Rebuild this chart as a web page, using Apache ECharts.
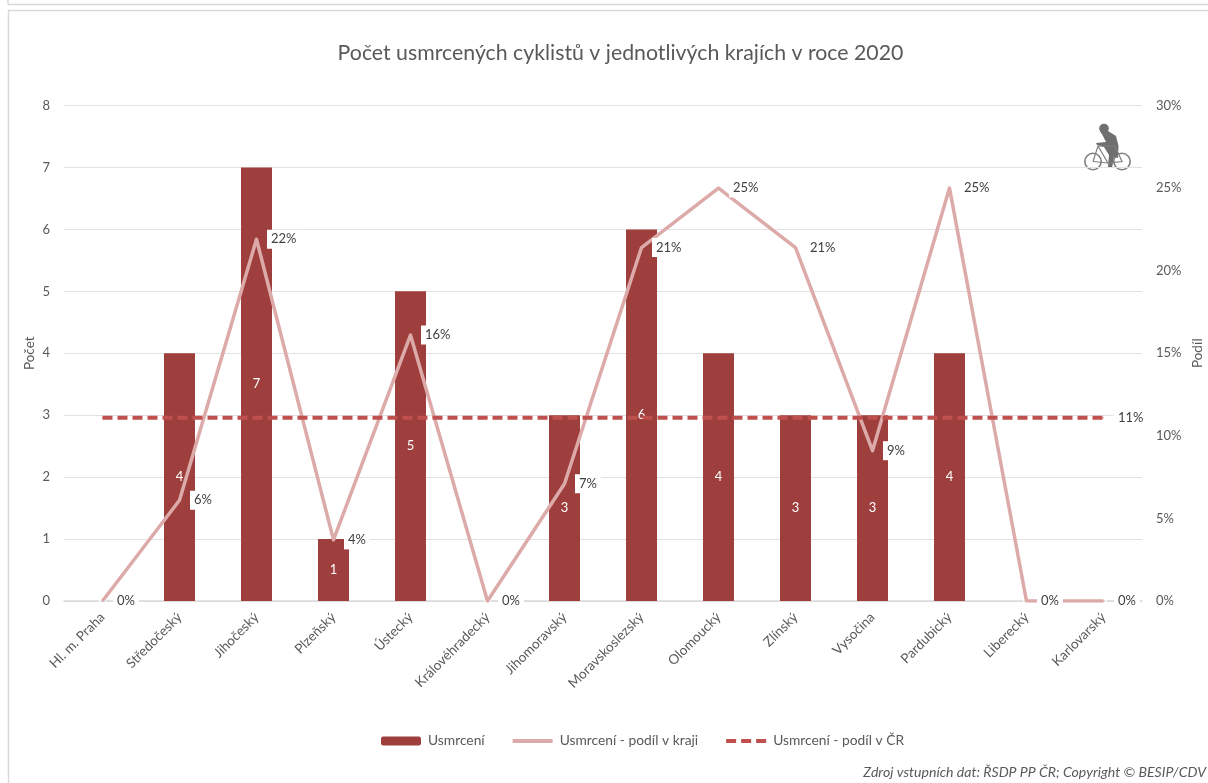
<!DOCTYPE html>
<html><head><meta charset="utf-8">
<style>html,body{margin:0;padding:0;background:#fff}#c{width:1208px;height:783px}</style>
<script src="https://cdn.jsdelivr.net/npm/echarts@6/dist/echarts.min.js"></script>
</head><body><div id="c"></div>
<script>
const categories = ["Hl. m. Praha","Středočeský","Jihočeský","Plzeňský","Ústecký","Královéhradecký","Jihomoravský","Moravskoslezský","Olomoucký","Zlínský","Vysočina","Pardubický","Liberecký","Karlovarský"];
const deaths = [0,4,7,1,5,0,3,6,4,3,3,4,0,0];
const shareRegion = [0,6.1,21.9,3.7,16.1,0,7.1,21.4,25,21.4,9.1,25,0,0];
const shareCountry = [11.1,11.1,11.1,11.1,11.1,11.1,11.1,11.1,11.1,11.1,11.1,11.1,11.1,11.1];
const names = ["Usmrcení","Usmrcení - podíl v kraji","Usmrcení - podíl v ČR"];
const titleText = "Počet usmrcených cyklistů v jednotlivých krajích v roce 2020";
const sourceText = "Zdroj vstupních dat: ŘSDP PP ČR; Copyright © BESIP/CDV";

const FONT = "Lato", GREY = "#595959", BORDER = "#d9d9d9";
const pct = p => Math.round(p.value) + "%";
const whiteLabel = {
  show:true, position:"right", distance:10, formatter:pct, color:"#404040",
  fontFamily:FONT, fontSize:13, backgroundColor:"#fff", padding:[3,4,3,4]
};
const frame = (x1,y1,x2,y2) => ({type:"line",silent:true,shape:{x1,y1,x2,y2},style:{stroke:BORDER,lineWidth:1.5}});
const lineColor = "#dcaaa9", dashColor = "#c0504d";
const dash = [10,5];

const chart = echarts.init(document.getElementById("c"),null,{renderer:"canvas"});
chart.setOption({
  animation:false,
  backgroundColor:"#fff",
  textStyle:{fontFamily:FONT},
  title:{text:titleText,left:615.5,top:38,textAlign:"center",
    textStyle:{fontFamily:FONT,fontSize:21.3,fontWeight:"normal",color:GREY}},
  grid:{left:64,right:66,top:105.5,bottom:182,containLabel:false,outerBoundsMode:"none"},
  legend:{
    data:[{name:names[0]},
      {name:names[1],itemStyle:{opacity:0},lineStyle:{width:4,color:lineColor}},
      {name:names[2],itemStyle:{opacity:0},lineStyle:{width:4,color:dashColor,type:dash}}],
    left:376,top:729,itemWidth:40,itemHeight:9,itemGap:26,
    textStyle:{fontFamily:FONT,fontSize:13.8,color:GREY,padding:[0,0,0,2]}
  },
  xAxis:{type:"category",data:categories,
    axisLine:{lineStyle:{color:BORDER,width:1.5}},axisTick:{show:false},
    axisLabel:{rotate:45,interval:0,margin:14,color:GREY,fontFamily:FONT,fontSize:13.5}},
  yAxis:[
    {type:"value",min:0,max:8,interval:1,name:"Počet",nameLocation:"middle",nameGap:27,nameMoveOverlap:false,
     nameTextStyle:{color:GREY,fontFamily:FONT,fontSize:13.5},
     axisLine:{show:false},axisTick:{show:false},
     axisLabel:{color:GREY,fontFamily:FONT,fontSize:13,margin:14},
     splitLine:{lineStyle:{color:"#e2e2e2",width:1}}},
    {type:"value",min:0,max:30,interval:5,name:"Podíl",nameLocation:"middle",nameGap:49,nameMoveOverlap:false,
     nameTextStyle:{color:GREY,fontFamily:FONT,fontSize:13.5},
     axisLine:{show:false},axisTick:{show:false},
     axisLabel:{color:GREY,fontFamily:FONT,fontSize:13,margin:14,formatter:"{value}%"},
     splitLine:{show:false}}
  ],
  series:[
    {name:names[0],type:"bar",data:deaths,barWidth:31,yAxisIndex:0,
     itemStyle:{color:"#9e3f3d"},
     label:{show:true,position:"inside",color:"#fff",fontFamily:FONT,fontSize:13}},
    {name:names[1],type:"line",data:shareRegion,yAxisIndex:1,symbol:"circle",symbolSize:1,showSymbol:true,
     lineStyle:{color:lineColor,width:3.5,join:"round"},itemStyle:{color:lineColor},
     label:whiteLabel,z:4},
    {name:names[2],type:"line",yAxisIndex:1,symbol:"circle",symbolSize:1,showSymbol:true,
     data:shareCountry.map((v,i)=> i===shareCountry.length-1 ? {value:v,label:{...whiteLabel,show:true}} : {value:v,label:{show:false}}),
     lineStyle:{color:dashColor,width:4,type:dash},itemStyle:{color:dashColor},z:5}
  ],
  graphic:[
    frame(8,4.5,1208,4.5), frame(8,0,8,4.5), frame(8,10.5,1208,10.5), frame(8.5,10,8.5,783),
    {type:"text",x:1206,y:772,silent:true,
     style:{text:sourceText,fontFamily:FONT,fontSize:14.1,fontStyle:"italic",fill:"#595959",align:"right",verticalAlign:"middle"}},
    {type:"circle",silent:true,shape:{cx:1093,cy:161.5,r:8.2},style:{fill:"none",stroke:"#7f7f7f",lineWidth:1.6}},
    {type:"circle",silent:true,shape:{cx:1122,cy:161.5,r:8.2},style:{fill:"none",stroke:"#7f7f7f",lineWidth:1.6}},
    {type:"circle",silent:true,shape:{cx:1104,cy:128.5,r:4.8},style:{fill:"#6f6f6f"}},
    {type:"polygon",silent:true,shape:{points:[[1100,131],[1108,131],[1116,136],[1118.5,146],[1118,158],[1114,157],[1112,168],[1108,167],[1109,155],[1104,147],[1097,145],[1096,143],[1106,142],[1103,136]]},style:{fill:"#6f6f6f"}},
    {type:"polyline",silent:true,shape:{points:[[1093,161.5],[1098,146],[1115,146],[1122,161.5],[1108,163],[1098,146]]},style:{fill:"none",stroke:"#7f7f7f",lineWidth:1.2}},
    {type:"line",silent:true,shape:{x1:1108,y1:163,x2:1093,y2:161.5},style:{stroke:"#7f7f7f",lineWidth:1.2}}
  ]
});
</script></body></html>
